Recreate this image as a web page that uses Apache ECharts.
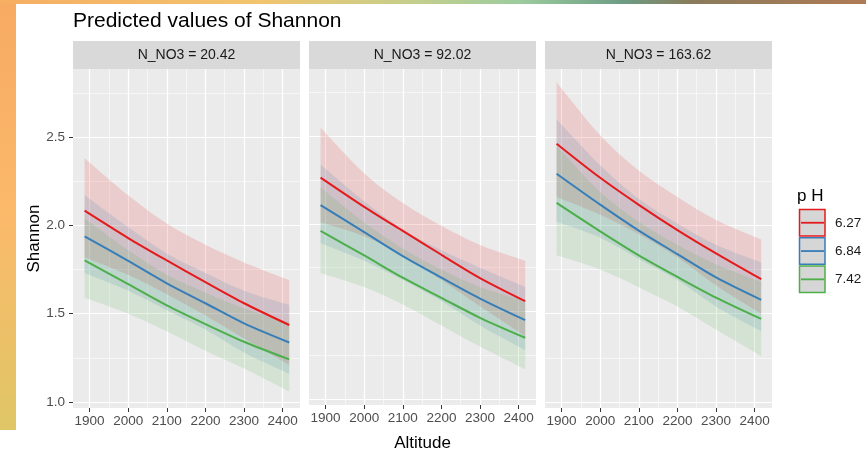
<!DOCTYPE html>
<html>
<head>
<meta charset="utf-8">
<script src="https://cdn.jsdelivr.net/npm/echarts@6/dist/echarts.min.js"></script>
<style>
  html, body { margin: 0; padding: 0; background: #fff; }
  #main { width: 866px; height: 457px; }
</style>
</head>
<body>
<div id="main"></div>
<script>
// altitude points where the predictions were read
const altitude = [1887, 2000, 2100, 2200, 2300, 2417];
const panels = ["N_NO3 = 20.42", "N_NO3 = 92.02", "N_NO3 = 163.62"];
const phLevels = ["6.27", "6.84", "7.42"];
const phColors = ["#e41a1c", "#377eb8", "#4daf4a"];
const xTicks = [1900, 2000, 2100, 2200, 2300, 2400];
const xMinor = [1950, 2050, 2150, 2250, 2350];
const yTicks = [1.0, 1.5, 2.0, 2.5];
const yMinor = [1.25, 1.75, 2.25, 2.75];

// N_NO3 = 20.42  (rows: pH 6.27, 6.84, 7.42)
const fit20 = [
  [2.083, 1.928, 1.801, 1.678, 1.559, 1.436],
  [1.938, 1.799, 1.672, 1.559, 1.445, 1.337],
  [1.801, 1.667, 1.547, 1.441, 1.341, 1.241]
];
const low20 = [
  [1.82, 1.72, 1.61, 1.49, 1.36, 1.21],
  [1.73, 1.63, 1.52, 1.41, 1.28, 1.16],
  [1.59, 1.50, 1.40, 1.29, 1.19, 1.06]
];
const high20 = [
  [2.38, 2.17, 2.01, 1.89, 1.79, 1.69],
  [2.17, 1.99, 1.84, 1.73, 1.63, 1.55],
  [2.04, 1.86, 1.72, 1.62, 1.53, 1.45]
];

// N_NO3 = 92.02
const fit92 = [
  [2.265, 2.098, 1.960, 1.824, 1.691, 1.559],
  [2.108, 1.953, 1.816, 1.693, 1.574, 1.451],
  [1.960, 1.820, 1.693, 1.578, 1.464, 1.350]
];
const low92 = [
  [2.01, 1.93, 1.82, 1.68, 1.53, 1.36],
  [1.89, 1.79, 1.68, 1.56, 1.42, 1.28],
  [1.72, 1.64, 1.54, 1.42, 1.30, 1.17]
];
const high92 = [
  [2.55, 2.29, 2.12, 1.99, 1.88, 1.79],
  [2.34, 2.13, 1.97, 1.85, 1.75, 1.64],
  [2.21, 2.01, 1.86, 1.74, 1.64, 1.56]
];

// N_NO3 = 163.62
const fit163 = [
  [2.462, 2.269, 2.116, 1.973, 1.841, 1.695],
  [2.292, 2.117, 1.970, 1.837, 1.705, 1.578],
  [2.127, 1.966, 1.830, 1.708, 1.591, 1.470]
];
const low163 = [
  [2.16, 2.06, 1.95, 1.82, 1.66, 1.50],
  [2.02, 1.93, 1.81, 1.69, 1.54, 1.40],
  [1.83, 1.75, 1.65, 1.54, 1.41, 1.26]
];
const high163 = [
  [2.81, 2.51, 2.31, 2.16, 2.03, 1.92],
  [2.60, 2.34, 2.15, 2.01, 1.89, 1.79],
  [2.45, 2.19, 2.02, 1.89, 1.78, 1.68]
];

const fits = [fit20, fit92, fit163];
const lows = [low20, low92, low163];
const highs = [high20, high92, high163];

const panelLeft = [73, 309, 545];
const panelTop = 69, panelW = 227, panelH = 339;
const xMin = 1857, xMax = 2445, yMin = 0.966, yMax = 2.885;

function rgba(hex, a) {
  const n = parseInt(hex.slice(1), 16);
  return `rgba(${(n >> 16) & 255},${(n >> 8) & 255},${n & 255},${a})`;
}

// catmull-rom through pixel points -> bezier path commands
function curve(pts) {
  let d = "";
  for (let i = 0; i < pts.length - 1; i++) {
    const p0 = pts[Math.max(i - 1, 0)], p1 = pts[i], p2 = pts[i + 1], p3 = pts[Math.min(i + 2, pts.length - 1)];
    const c1 = [p1[0] + (p2[0] - p0[0]) / 6, p1[1] + (p2[1] - p0[1]) / 6];
    const c2 = [p2[0] - (p3[0] - p1[0]) / 6, p2[1] - (p3[1] - p1[1]) / 6];
    d += ` C${c1[0]},${c1[1]} ${c2[0]},${c2[1]} ${p2[0]},${p2[1]}`;
  }
  return d;
}

let myChart = echarts.init(document.getElementById("main"));

let grids = [], xAxes = [], yAxes = [], series = [], graphics = [];

// decorative frame strips around the screenshot
graphics.push({
  type: "rect", z: -10, shape: { x: 0, y: 0, width: 16, height: 430 },
  style: { fill: { type: "linear", x: 0, y: 0, x2: 0, y2: 1, colorStops: [
    { offset: 0, color: "#f7aa63" }, { offset: 0.5, color: "#fbb96a" }, { offset: 1, color: "#dfc666" }] } }
});
graphics.push({
  type: "rect", z: -10, shape: { x: 0, y: 0, width: 866, height: 4 },
  style: { fill: { type: "linear", x: 0, y: 0, x2: 1, y2: 0, colorStops: [
    { offset: 0, color: "#f6ae62" }, { offset: 0.3, color: "#f2c46e" }, { offset: 0.48, color: "#c3cf8d" },
    { offset: 0.6, color: "#9ccc9e" }, { offset: 0.72, color: "#6d9c84" }, { offset: 0.8, color: "#8a7b5b" },
    { offset: 1, color: "#b07a55" }] } }
});

panels.forEach((label, k) => {
  grids.push({
    left: panelLeft[k], top: panelTop, width: panelW, height: panelH,
    show: true, backgroundColor: "#ebebeb", borderWidth: 0
  });

  // strip
  graphics.push({
    type: "rect", shape: { x: panelLeft[k], y: 41, width: panelW, height: 28 },
    style: { fill: "#d9d9d9" }
  });
  graphics.push({
    type: "text", x: panelLeft[k] + panelW / 2, y: 55,
    style: { text: label, fill: "#1a1a1a", fontSize: 14, fontFamily: "Liberation Sans", align: "center", verticalAlign: "middle" }
  });

  xAxes.push({
    gridIndex: k, type: "value", min: xMin, max: xMax, position: "bottom",
    axisLine: { show: false },
    axisTick: { show: true, length: 4, customValues: xTicks, lineStyle: { color: "#333", width: 1 } },
    axisLabel: { customValues: xTicks, color: "#4d4d4d", fontSize: 13.5, fontFamily: "Liberation Sans", margin: 6,
      formatter: (v) => String(v) },
    splitLine: { show: true, lineStyle: { color: "#fff", width: 1.2 } },
    name: k === 1 ? "Altitude" : "", nameLocation: "middle", nameGap: 30,
    nameTextStyle: { color: "#000", fontSize: 17, fontFamily: "Liberation Sans" }
  });
  xAxes.push({
    gridIndex: k, type: "value", min: xMin, max: xMax, position: "top",
    axisLine: { show: false },
    axisTick: { show: false, customValues: xMinor },
    axisLabel: { show: false, customValues: xMinor },
    splitLine: { show: true, lineStyle: { color: "#fff", width: 0.55 } }
  });
  yAxes.push({
    gridIndex: k, type: "value", min: yMin, max: yMax, position: "left",
    axisLine: { show: false },
    axisTick: { show: k === 0, length: 4, customValues: yTicks, lineStyle: { color: "#333", width: 1 } },
    axisLabel: { show: k === 0, customValues: yTicks, color: "#4d4d4d", fontSize: 13.5, fontFamily: "Liberation Sans",
      margin: 8, formatter: (v) => v.toFixed(1) },
    splitLine: { show: true, lineStyle: { color: "#fff", width: 1.2 } },
    name: k === 0 ? "Shannon" : "", nameLocation: "middle", nameGap: 30, nameRotate: 90,
    nameTextStyle: { color: "#000", fontSize: 17, fontFamily: "Liberation Sans" }
  });
  yAxes.push({
    gridIndex: k, type: "value", min: yMin, max: yMax, position: "right",
    axisLine: { show: false },
    axisTick: { show: false, customValues: yMinor },
    axisLabel: { show: false, customValues: yMinor },
    splitLine: { show: true, lineStyle: { color: "#fff", width: 0.55 } }
  });

  // confidence ribbons
  phLevels.forEach((ph, j) => {
    const lo = lows[k][j], hi = highs[k][j];
    series.push({
      type: "custom", name: ph, xAxisIndex: 2 * k, yAxisIndex: 2 * k, z: 2, silent: true,
      data: altitude.map((x, i) => [x, lo[i], hi[i]]),
      encode: { x: 0, y: [1, 2] },
      renderItem: (params, api) => {
        if (params.dataIndex !== 0) return null;
        const up = altitude.map((x, i) => api.coord([x, hi[i]]));
        const dn = altitude.map((x, i) => api.coord([x, lo[i]])).reverse();
        const d = `M${up[0][0]},${up[0][1]}` + curve(up) + ` L${dn[0][0]},${dn[0][1]}` + curve(dn) + " Z";
        return { type: "path", shape: { pathData: d }, style: { fill: rgba(phColors[j], 0.15) } };
      }
    });
  });

  // predicted lines
  phLevels.forEach((ph, j) => {
    series.push({
      type: "line", name: ph, xAxisIndex: 2 * k, yAxisIndex: 2 * k, z: 3,
      data: altitude.map((x, i) => [x, fits[k][j][i]]),
      smooth: 0.3, symbol: "none", silent: true,
      lineStyle: { color: phColors[j], width: 2 }
    });
  });
});

// legend
graphics.push({
  type: "text", x: 797, y: 196,
  style: { text: "p H", fill: "#000", fontSize: 17, fontFamily: "Liberation Sans", verticalAlign: "middle" }
});
phLevels.forEach((ph, j) => {
  const y0 = 209.5 + j * 28.3;
  graphics.push({
    type: "rect", shape: { x: 799.5, y: y0, width: 25.5, height: 26.5 },
    style: { fill: "#d6d6d6", stroke: phColors[j], lineWidth: 1.5 }
  });
  graphics.push({
    type: "line", shape: { x1: 801, y1: y0 + 13.25, x2: 824, y2: y0 + 13.25 },
    style: { stroke: phColors[j], lineWidth: 1.8 }
  });
  graphics.push({
    type: "text", x: 835, y: y0 + 13.5,
    style: { text: ph, fill: "#1a1a1a", fontSize: 13.5, fontFamily: "Liberation Sans", verticalAlign: "middle" }
  });
});

let option = {
  animation: false,
  backgroundColor: "#fff",
  title: {
    text: "Predicted values of Shannon", left: 73, top: 11, padding: 0,
    textStyle: { color: "#000", fontSize: 21, fontWeight: "normal", fontFamily: "Liberation Sans" }
  },
  grid: grids,
  xAxis: xAxes,
  yAxis: yAxes,
  series: series,
  graphic: graphics
};

myChart.setOption(option);
</script>
</body>
</html>
